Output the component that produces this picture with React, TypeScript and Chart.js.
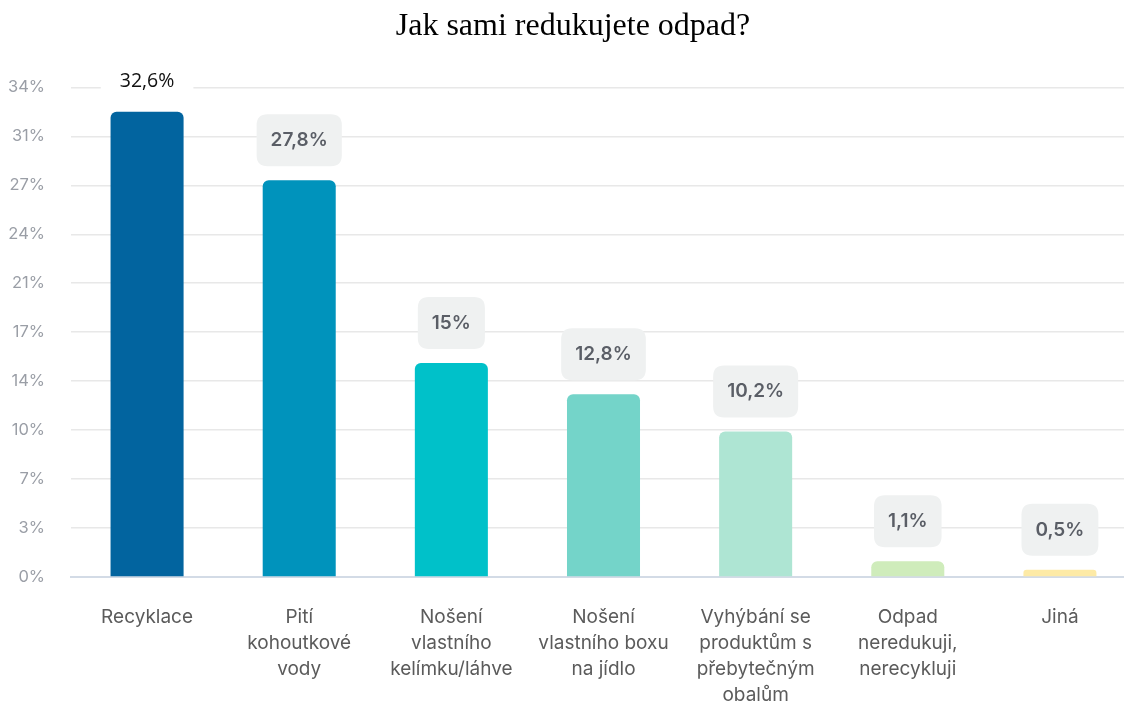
import React, { useEffect, useRef } from "react";
import { Chart, registerables } from "chart.js";

Chart.register(...registerables);

const titleText = "Jak sami redukujete odpad?";
const categories: (string | string[])[] = [
  "Recyklace",
  ["Pití", "kohoutkové", "vody"],
  ["Nošení", "vlastního", "kelímku/láhve"],
  ["Nošení", "vlastního boxu", "na jídlo"],
  ["Vyhýbání se", "produktům s", "přebytečným", "obalům"],
  ["Odpad", "neredukuji,", "nerecykluji"],
  "Jiná",
];
const values = [32.6, 27.8, 15, 12.8, 10.2, 1.1, 0.5];
const valueLabels = ["32,6%", "27,8%", "15%", "12,8%", "10,2%", "1,1%", "0,5%"];
const yTickValues = [0, 3.43, 6.86, 10.29, 13.72, 17.15, 20.58, 24.01, 27.44, 30.87, 34.3];
const yMax = 34.3;

const barColors = ["#02649f", "#0093bc", "#00c1c9", "#74d4c9", "#aee5d3", "#cfecbb", "#fdeaa6"];

const W = 1146;
const H = 704;

function roundRect(ctx: CanvasRenderingContext2D, x: number, y: number, w: number, h: number, r: number) {
  ctx.beginPath();
  ctx.moveTo(x + r, y);
  ctx.lineTo(x + w - r, y);
  ctx.quadraticCurveTo(x + w, y, x + w, y + r);
  ctx.lineTo(x + w, y + h - r);
  ctx.quadraticCurveTo(x + w, y + h, x + w - r, y + h);
  ctx.lineTo(x + r, y + h);
  ctx.quadraticCurveTo(x, y + h, x, y + h - r);
  ctx.lineTo(x, y + r);
  ctx.quadraticCurveTo(x, y, x + r, y);
  ctx.closePath();
}

const labelPlugin = {
  id: "valueLabels",
  afterDatasetsDraw(chart: any) {
    const ctx: CanvasRenderingContext2D = chart.ctx;
    const meta = chart.getDatasetMeta(0);
    meta.data.forEach((bar: any, i: number) => {
      const text = valueLabels[i];
      ctx.save();
      if (i === 0) {
        ctx.font = "400 19.5px 'Open Sans'";
        const tw = ctx.measureText(text).width;
        const bw = tw + 38;
        const cy = bar.y - 30;
        ctx.fillStyle = "#ffffff";
        roundRect(ctx, bar.x - bw / 2, cy - 19, bw, 38, 10);
        ctx.fill();
        ctx.fillStyle = "#111111";
        ctx.textAlign = "center";
        ctx.textBaseline = "middle";
        ctx.fillText(text, bar.x, cy);
      } else {
        ctx.font = "600 19px Inter";
        const tw = ctx.measureText(text).width;
        const bw = tw + 28;
        const bh = 52;
        const bottom = bar.y - 14;
        ctx.fillStyle = "#eff1f1";
        roundRect(ctx, bar.x - bw / 2, bottom - bh, bw, bh, 11);
        ctx.fill();
        ctx.fillStyle = "#5a5e66";
        ctx.textAlign = "center";
        ctx.textBaseline = "middle";
        ctx.fillText(text, bar.x, bottom - bh / 2);
      }
      ctx.restore();
    });
  },
};

export default function App() {
  const ref = useRef<HTMLCanvasElement | null>(null);
  useEffect(() => {
    if (!ref.current) return;
    const chart = new Chart(ref.current, {
      type: "bar",
      data: {
        labels: categories,
        datasets: [
          {
            data: values,
            backgroundColor: barColors,
            borderRadius: 6,
            borderSkipped: "bottom",
            categoryPercentage: 1,
            barPercentage: 0.48,
          },
        ],
      },
      plugins: [labelPlugin],
      options: {
        responsive: false,
        animation: false,
        devicePixelRatio: 1,
        layout: { padding: 0 },
        plugins: {
          legend: { display: false },
          tooltip: { enabled: false },
          title: {
            display: true,
            text: titleText,
            color: "#000000",
            font: { family: "'Liberation Serif', 'Times New Roman', serif", size: 32, weight: "normal" },
            padding: { top: 7, bottom: 42 },
          },
        },
        scales: {
          x: {
            grid: { display: false, drawTicks: false },
            border: { display: true, color: "#d3dbe6", width: 2 },
            ticks: {
              color: "#5b5b5b",
              font: { family: "Inter", size: 19, lineHeight: 1.37 },
              padding: 27,
              maxRotation: 0,
              minRotation: 0,
              autoSkip: false,
            },
            afterFit(scale: any) {
              scale.height = H - 577;
              scale.paddingRight = 10;
            },
          },
          y: {
            min: 0,
            max: yMax,
            grid: { color: "#e8e8e8", lineWidth: 1.5, drawTicks: false },
            border: { display: false },
            ticks: {
              color: "#9a9ea6",
              font: { family: "Inter", size: 16.5 },
              padding: 26,
              callback: (v: any) => Math.round(Number(v)) + "%",
            },
            afterBuildTicks(scale: any) {
              scale.ticks = yTickValues.map((v) => ({ value: v }));
            },
            afterFit(scale: any) {
              scale.width = 71;
            },
          },
        },
      },
    });
    return () => chart.destroy();
  }, []);
  return (
    <div style={{ position: "fixed", left: 0, top: 0, right: 0, bottom: 0, overflow: "hidden", background: "#fff" }}>
      <canvas ref={ref} width={W} height={H} style={{ display: "block", width: W, height: H }} />
    </div>
  );
}
